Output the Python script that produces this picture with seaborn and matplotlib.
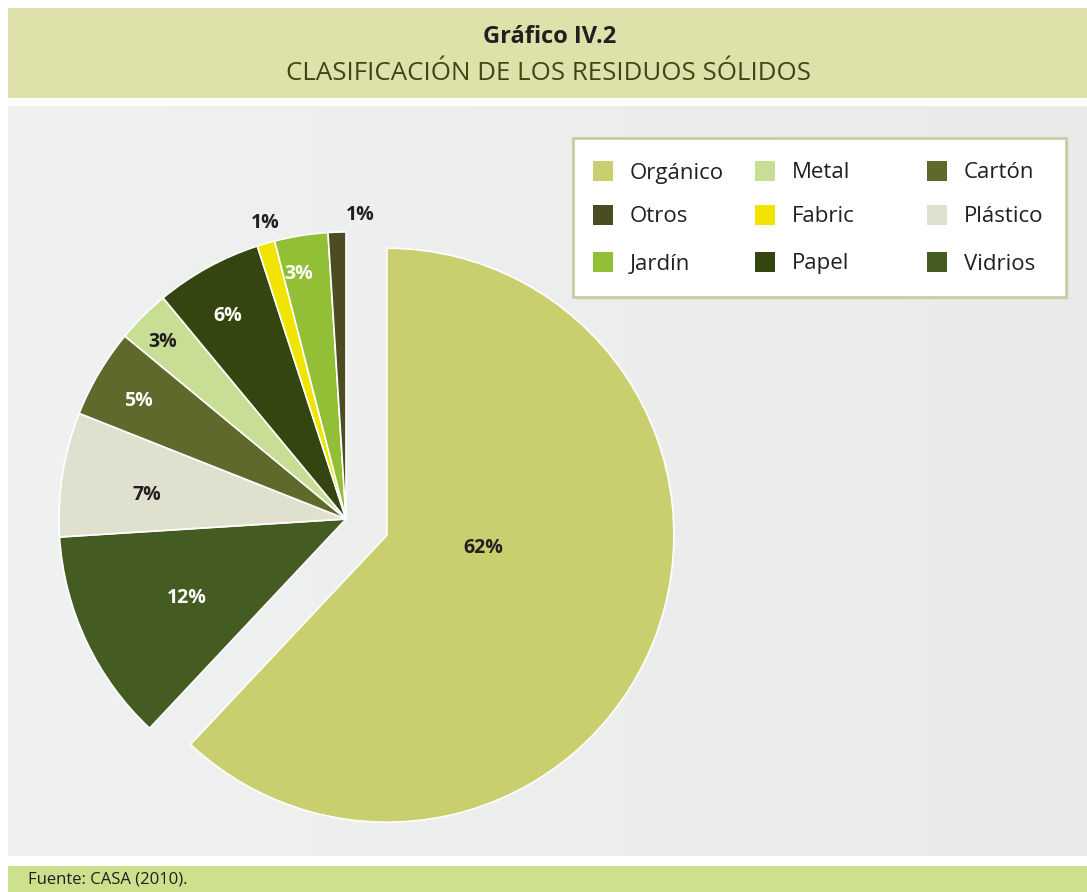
import numpy as np
import matplotlib
matplotlib.use("Agg")
import matplotlib.pyplot as plt
import seaborn as sns
from matplotlib.patches import Rectangle

# ---- data ----
categories = ["Orgánico", "Vidrios", "Plástico", "Cartón", "Metal",
              "Papel", "Fabric", "Jardín", "Otros"]
values = [62, 12, 7, 5, 3, 6, 1, 3, 1]
pct_labels = ["62%", "12%", "7%", "5%", "3%", "6%", "1%", "3%", "1%"]
legend_order = ["Orgánico", "Metal", "Cartón",
                "Otros", "Fabric", "Plástico",
                "Jardín", "Papel", "Vidrios"]

# ---- style ----
color_map = {
    "Orgánico": "#c9cf6e", "Vidrios": "#445b22", "Plástico": "#e0e0cf",
    "Cartón": "#5e692b", "Metal": "#c8de94", "Papel": "#34450f",
    "Fabric": "#f0e400", "Jardín": "#92bf35", "Otros": "#4b4c22",
}
lbl_dist = [0.34, 0.62, 0.70, 0.83, 0.89, 0.82, 1.07, 0.87, 1.06]
lbl_dang = [14, 1, 2, 1, 1, 1.5, -1, 2, -4.5]
lbl_col = ["#231f20", "white", "#231f20", "white", "#231f20", "white",
           "#231f20", "white", "#231f20"]

sns.set_style("white")
plt.rcParams["font.family"] = ["Open Sans", "DejaVu Sans"]

W, H = 1087, 892
fig = plt.figure(figsize=(W / 100, H / 100), dpi=100)
fig.patch.set_facecolor("white")
ax = fig.add_axes([0, 0, 1, 1])
ax.set_xlim(0, W)
ax.set_ylim(0, H)
ax.axis("off")

def Y(yimg):
    return H - yimg

# header band
ax.add_patch(Rectangle((8, Y(98)), W - 8, 90, facecolor="#dfe1aa", edgecolor="none", zorder=0))
ax.text(550, Y(37), "Gráfico IV.2", ha="center", va="center", fontsize=17,
        fontweight="bold", color="#231f20")
ax.text(548, Y(73), "CLASIFICACIÓN DE LOS RESIDUOS SÓLIDOS", ha="center", va="center",
        fontsize=18.6, color="#3b4a12")

# panel (subtle gradient)
grad = np.linspace(0, 1, 256)[None, :]
ax.imshow(grad, extent=(8, W, Y(856), Y(106)), cmap=matplotlib.colors.LinearSegmentedColormap.from_list(
    "bg", ["#f0f1f1", "#e9ebeb"]), aspect="auto", zorder=0)
# footer
ax.add_patch(Rectangle((8, 0), W - 8, Y(866), facecolor="#cde08e", edgecolor="none", zorder=0))
ax.text(28, Y(880), "Fuente: CASA (2010).", ha="left", va="center", fontsize=12,
        color="#231f20")

# pie
radius = 287
explode = [44] + [0] * (len(values) - 1)
cols = [color_map[c] for c in categories]
wedges, _ = ax.pie(values, colors=cols, startangle=90, counterclock=False,
                   center=(346, Y(519)), radius=radius, explode=explode, frame=True,
                   wedgeprops=dict(edgecolor="white", linewidth=1.2, zorder=2))
ax.set_xlim(0, W)
ax.set_ylim(0, H)
ax.set_aspect("equal")
ax.axis("off")

for i, w in enumerate(wedges):
    th = np.deg2rad((w.theta1 + w.theta2) / 2 + lbl_dang[i])
    cx, cy = w.center
    r = w.r * lbl_dist[i]
    ax.text(cx + r * np.cos(th), cy + r * np.sin(th), pct_labels[i],
            ha="center", va="center", fontsize=14, fontweight="bold",
            color=lbl_col[i], zorder=5)

# legend box
ax.add_patch(Rectangle((576, Y(300)), 493, 159, facecolor="#d9dbd6", edgecolor="none",
                       zorder=3, alpha=0.5))
ax.add_patch(Rectangle((573, Y(297)), 493, 159, facecolor="white", edgecolor="#c9cca5",
                       linewidth=2, zorder=4))
col_x = [593, 755, 927]
row_y = [171, 215, 262]
for k, name in enumerate(legend_order):
    r_, c_ = divmod(k, 3)
    x0 = col_x[c_]
    yc = Y(row_y[r_])
    ax.add_patch(Rectangle((x0, yc - 10), 20, 20, facecolor=color_map[name],
                           edgecolor="none", zorder=5))
    ax.text(x0 + 37, yc - 2, name, ha="left", va="center", fontsize=16,
            color="#231f20", zorder=5)

fig.savefig("out.png", dpi=100)
